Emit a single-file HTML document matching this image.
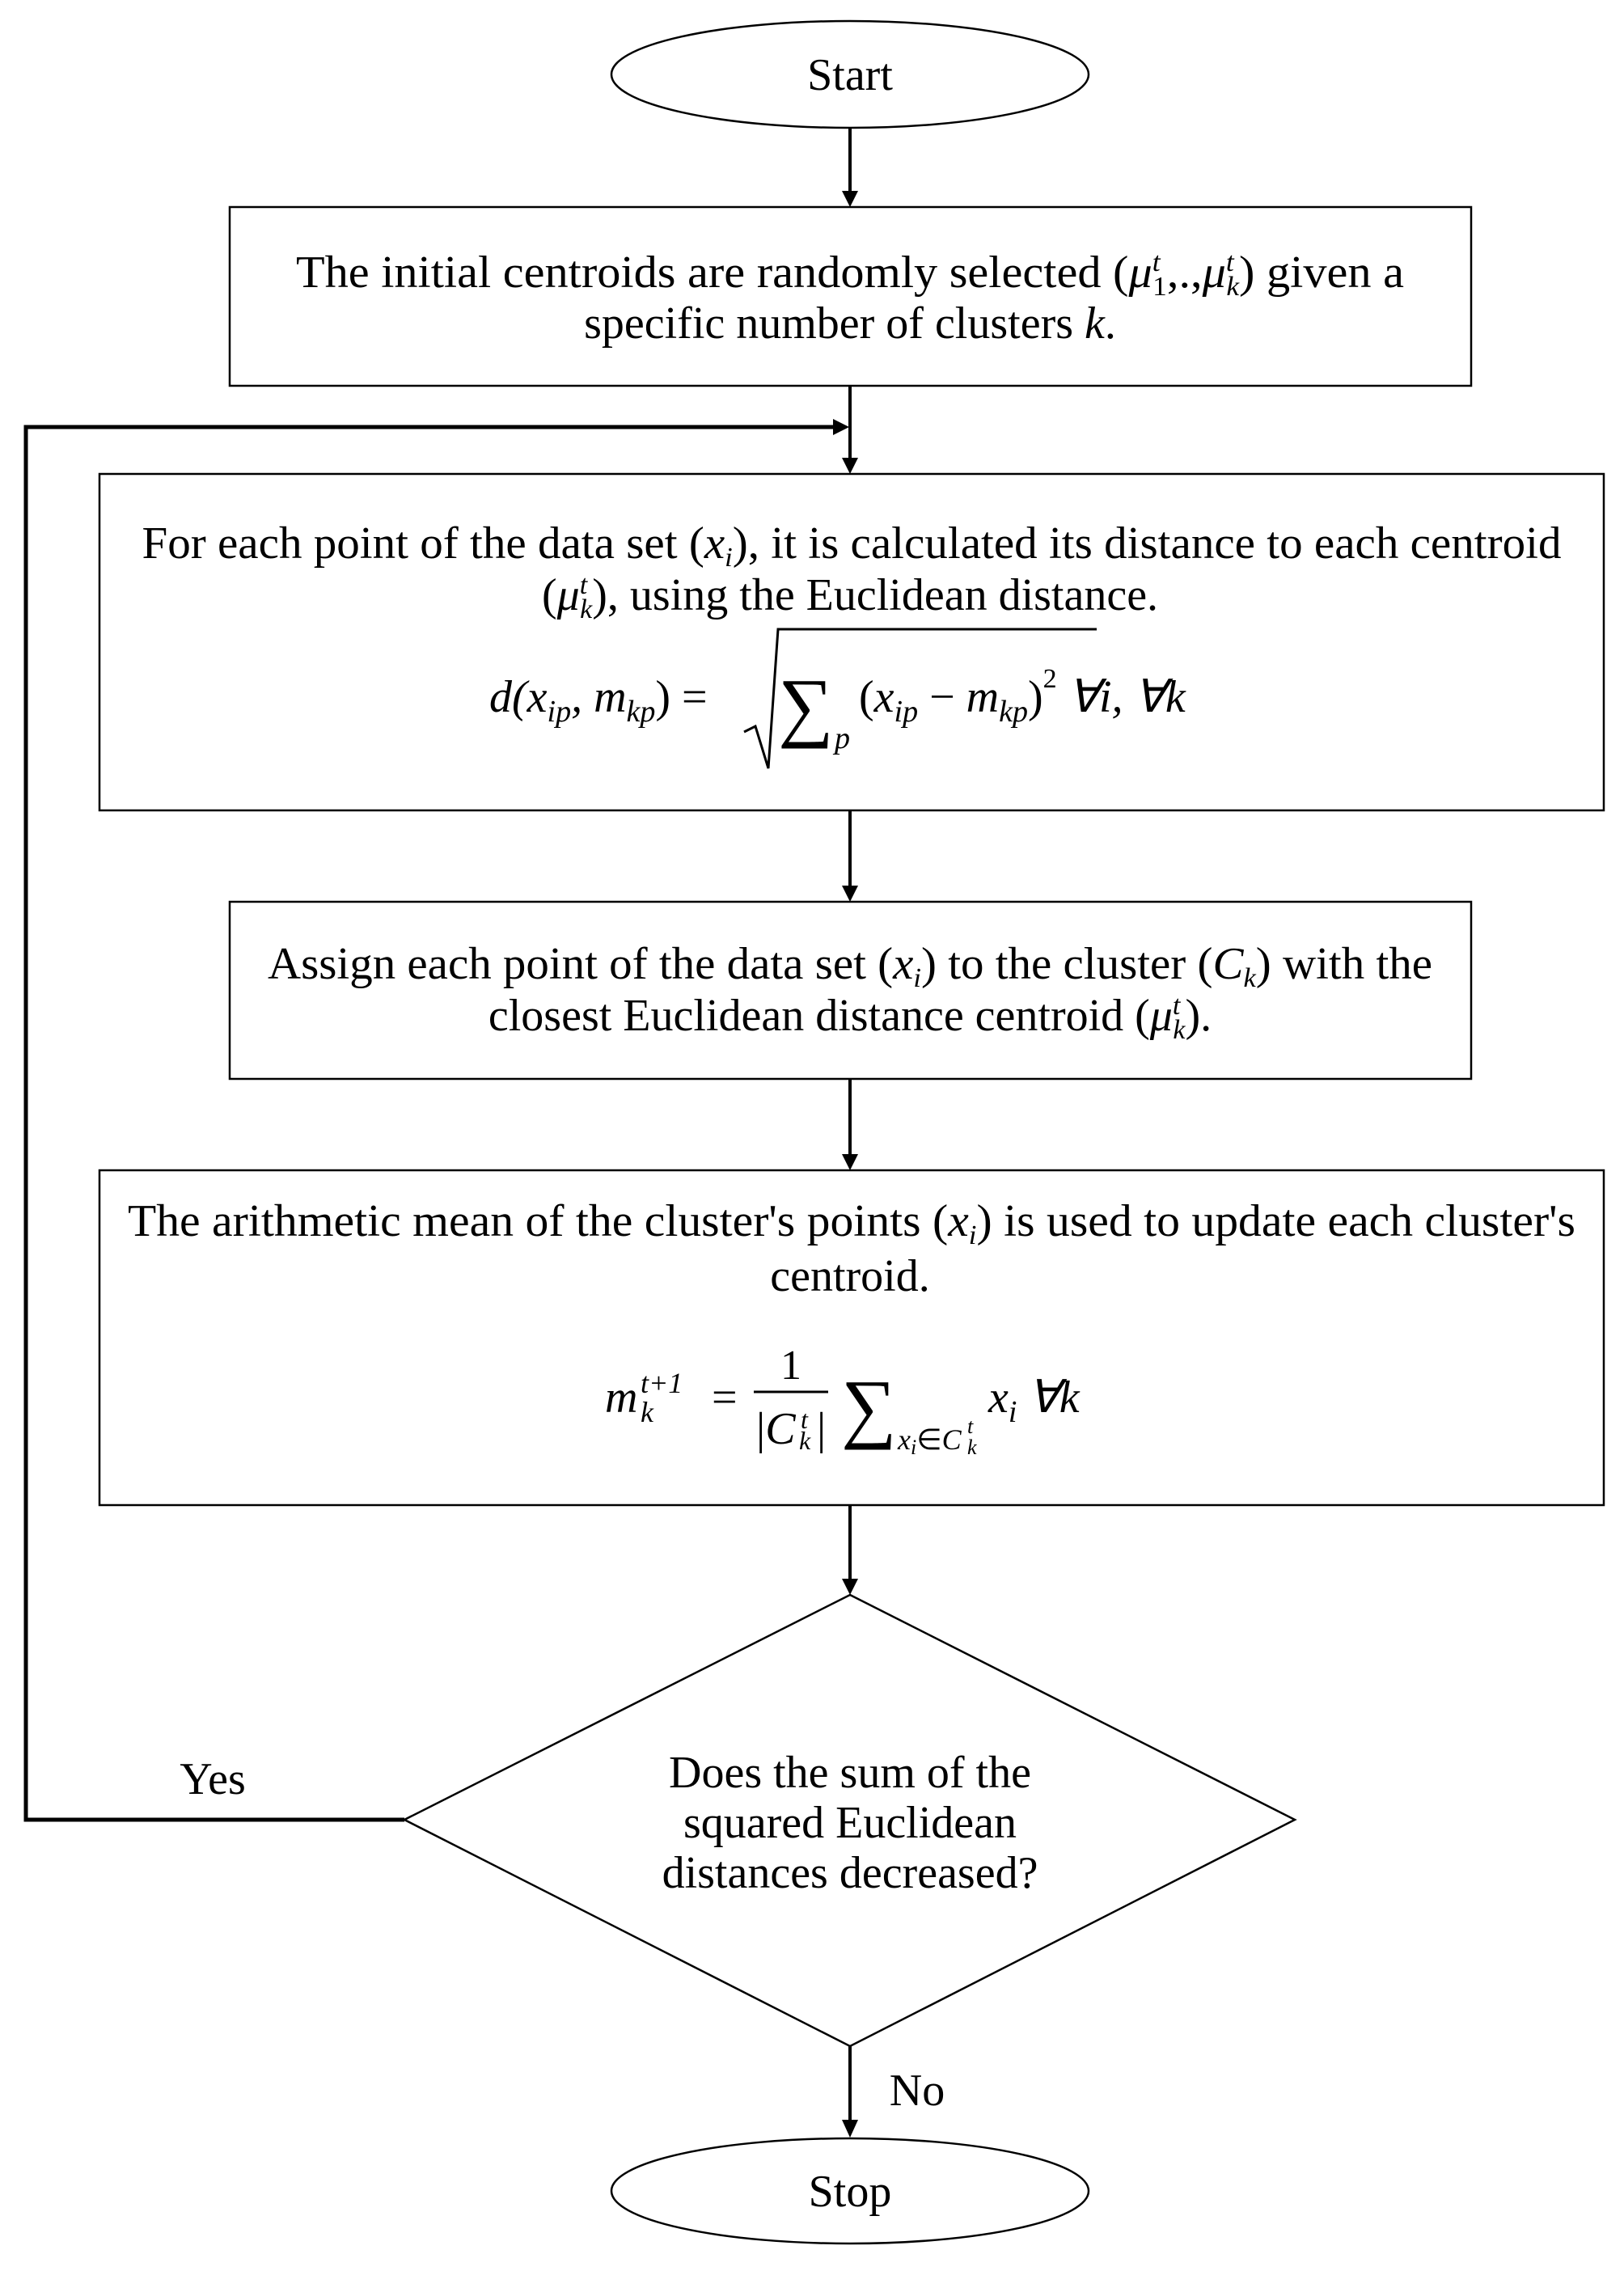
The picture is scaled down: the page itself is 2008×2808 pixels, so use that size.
<!DOCTYPE html>
<html><head><meta charset="utf-8"><style>
html,body{margin:0;padding:0;background:#fff;}
svg{display:block;}
text{font-family:"Liberation Serif",serif;fill:#000;}
.t{font-size:56px;}
</style></head><body>
<svg width="2008" height="2808" viewBox="0 0 2008 2808" xmlns="http://www.w3.org/2000/svg">
<g fill="none" stroke="#000">
<ellipse cx="1051" cy="92" rx="295" ry="66" stroke-width="2.5"/>
<rect x="284" y="256" width="1535" height="221" stroke-width="2.5"/>
<rect x="123" y="586" width="1860" height="416" stroke-width="2.5"/>
<rect x="284" y="1115" width="1535" height="219" stroke-width="2.5"/>
<rect x="123" y="1447" width="1860" height="414" stroke-width="2.5"/>
<polygon points="1051,1972 1601,2250 1051,2530 500,2250" stroke-width="2.5"/>
<ellipse cx="1051" cy="2709" rx="295" ry="65" stroke-width="2.5"/>
<line x1="1051" y1="158" x2="1051" y2="236" stroke-width="4"/>
<line x1="1051" y1="477" x2="1051" y2="566" stroke-width="4"/>
<line x1="1051" y1="1002" x2="1051" y2="1095" stroke-width="4"/>
<line x1="1051" y1="1334" x2="1051" y2="1427" stroke-width="4"/>
<line x1="1051" y1="1861" x2="1051" y2="1952" stroke-width="4"/>
<line x1="1051" y1="2530" x2="1051" y2="2621" stroke-width="4"/>
<polyline points="500,2250 32,2250 32,528 1030,528" stroke-width="5"/>
</g>
<g fill="#000">
<polygon points="1041,236 1061,236 1051,256"/>
<polygon points="1041,566 1061,566 1051,586"/>
<polygon points="1041,1095 1061,1095 1051,1115"/>
<polygon points="1041,1427 1061,1427 1051,1447"/>
<polygon points="1041,1952 1061,1952 1051,1972"/>
<polygon points="1041,2621 1061,2621 1051,2643"/>
<polygon points="1030,518 1030,538 1050,528"/>
</g>
<text class="t" x="1051" y="111" text-anchor="middle">Start</text>
<text class="t" x="1051" y="355" text-anchor="middle" textLength="1370" lengthAdjust="spacingAndGlyphs">The initial centroids are randomly selected (<tspan font-style="italic">μ</tspan><tspan font-size="34" dy="-20" font-style="italic">t</tspan><tspan font-size="34" dy="30" dx="-9">1</tspan><tspan dy="-10">,.,</tspan><tspan font-style="italic">μ</tspan><tspan font-size="34" dy="-20" font-style="italic">t</tspan><tspan font-size="34" dy="30" dx="-9" font-style="italic">k</tspan><tspan dy="-10">) given a</tspan></text>
<text class="t" x="1051" y="418" text-anchor="middle">specific number of clusters <tspan font-style="italic">k</tspan>.</text>

<text class="t" x="1053" y="690" text-anchor="middle" textLength="1755" lengthAdjust="spacingAndGlyphs">For each point of the data set (<tspan font-style="italic">x</tspan><tspan font-size="34" dy="10" font-style="italic">i</tspan><tspan dy="-10">), it is calculated its distance to each centroid</tspan></text>
<text class="t" x="1051" y="754" text-anchor="middle">(<tspan font-style="italic">μ</tspan><tspan font-size="34" dy="-20" font-style="italic">t</tspan><tspan font-size="34" dy="30" dx="-9" font-style="italic">k</tspan><tspan dy="-10">), using the Euclidean distance.</tspan></text>
<!-- formula 1 -->
<text style="font-size:56px;font-style:italic" x="605" y="880">d(x<tspan style="font-size:38px" dy="12">ip</tspan><tspan dy="-12">, m</tspan><tspan style="font-size:38px" dy="12">kp</tspan><tspan dy="-12" style="font-style:normal">) =</tspan></text>
<path d="M920,905 L934,898 L950,950 L962,778 L1356,778" fill="none" stroke="#000" stroke-width="3"/>
<text x="962" y="905" style="font-size:96px">∑</text>
<text style="font-size:38px;font-style:italic" x="1032" y="925">p</text>
<text style="font-size:56px;font-style:italic" x="1062" y="880"><tspan style="font-style:normal">(</tspan>x<tspan style="font-size:38px" dy="12">ip</tspan><tspan dy="-12" style="font-style:normal"> − </tspan>m<tspan style="font-size:38px" dy="12">kp</tspan><tspan dy="-12" style="font-style:normal">)</tspan><tspan style="font-size:34px;font-style:normal" dy="-30">2</tspan><tspan dy="30"> ∀i, ∀k</tspan></text>

<text class="t" x="1051" y="1210" text-anchor="middle" textLength="1440" lengthAdjust="spacingAndGlyphs">Assign each point of the data set (<tspan font-style="italic">x</tspan><tspan font-size="34" dy="10" font-style="italic">i</tspan><tspan dy="-10">) to the cluster (</tspan><tspan font-style="italic">C</tspan><tspan font-size="34" dy="10" font-style="italic">k</tspan><tspan dy="-10">) with the</tspan></text>
<text class="t" x="1051" y="1274" text-anchor="middle">closest Euclidean distance centroid (<tspan font-style="italic">μ</tspan><tspan font-size="34" dy="-20" font-style="italic">t</tspan><tspan font-size="34" dy="30" dx="-9" font-style="italic">k</tspan><tspan dy="-10">).</tspan></text>

<text class="t" x="1053" y="1528" text-anchor="middle" textLength="1790" lengthAdjust="spacingAndGlyphs">The arithmetic mean of the cluster's points (<tspan font-style="italic">x</tspan><tspan font-size="34" dy="10" font-style="italic">i</tspan><tspan dy="-10">) is used to update each cluster's</tspan></text>
<text class="t" x="1051" y="1596" text-anchor="middle">centroid.</text>
<!-- formula 2 -->
<text style="font-size:56px;font-style:italic" x="748" y="1746">m</text>
<text style="font-size:36px;font-style:italic" x="792" y="1722">t+1</text>
<text style="font-size:36px;font-style:italic" x="792" y="1758">k</text>
<text x="880" y="1746" style="font-size:56px">=</text>
<text x="978" y="1705" style="font-size:52px" text-anchor="middle">1</text>
<line x1="932" y1="1721" x2="1024" y2="1721" stroke="#000" stroke-width="3"/>
<text style="font-size:56px;font-style:italic" x="935" y="1785"><tspan style="font-style:normal">|</tspan>C</text>
<text style="font-size:32px;font-style:italic" x="990" y="1766">t</text>
<text style="font-size:32px;font-style:italic" x="988" y="1792">k</text>
<text x="1010" y="1785" style="font-size:56px">|</text>
<text x="1040" y="1772" style="font-size:96px">∑</text>
<text style="font-size:36px;font-style:italic" x="1110" y="1792">x<tspan style="font-size:26px" dy="6">i</tspan><tspan dy="-6" style="font-style:normal">∈</tspan>C</text>
<text style="font-size:26px;font-style:italic" x="1196" y="1772">t</text>
<text style="font-size:26px;font-style:italic" x="1196" y="1798">k</text>
<text style="font-size:56px;font-style:italic" x="1222" y="1746">x<tspan style="font-size:38px" dy="12">i</tspan><tspan dy="-12"> ∀k</tspan></text>

<text class="t" x="1051" y="2210" text-anchor="middle">Does the sum of the</text>
<text class="t" x="1051" y="2272" text-anchor="middle">squared Euclidean</text>
<text class="t" x="1051" y="2334" text-anchor="middle">distances decreased?</text>
<text class="t" x="263" y="2218" text-anchor="middle">Yes</text>
<text class="t" x="1134" y="2603" text-anchor="middle">No</text>
<text class="t" x="1051" y="2728" text-anchor="middle">Stop</text>
</svg>
</body></html>
